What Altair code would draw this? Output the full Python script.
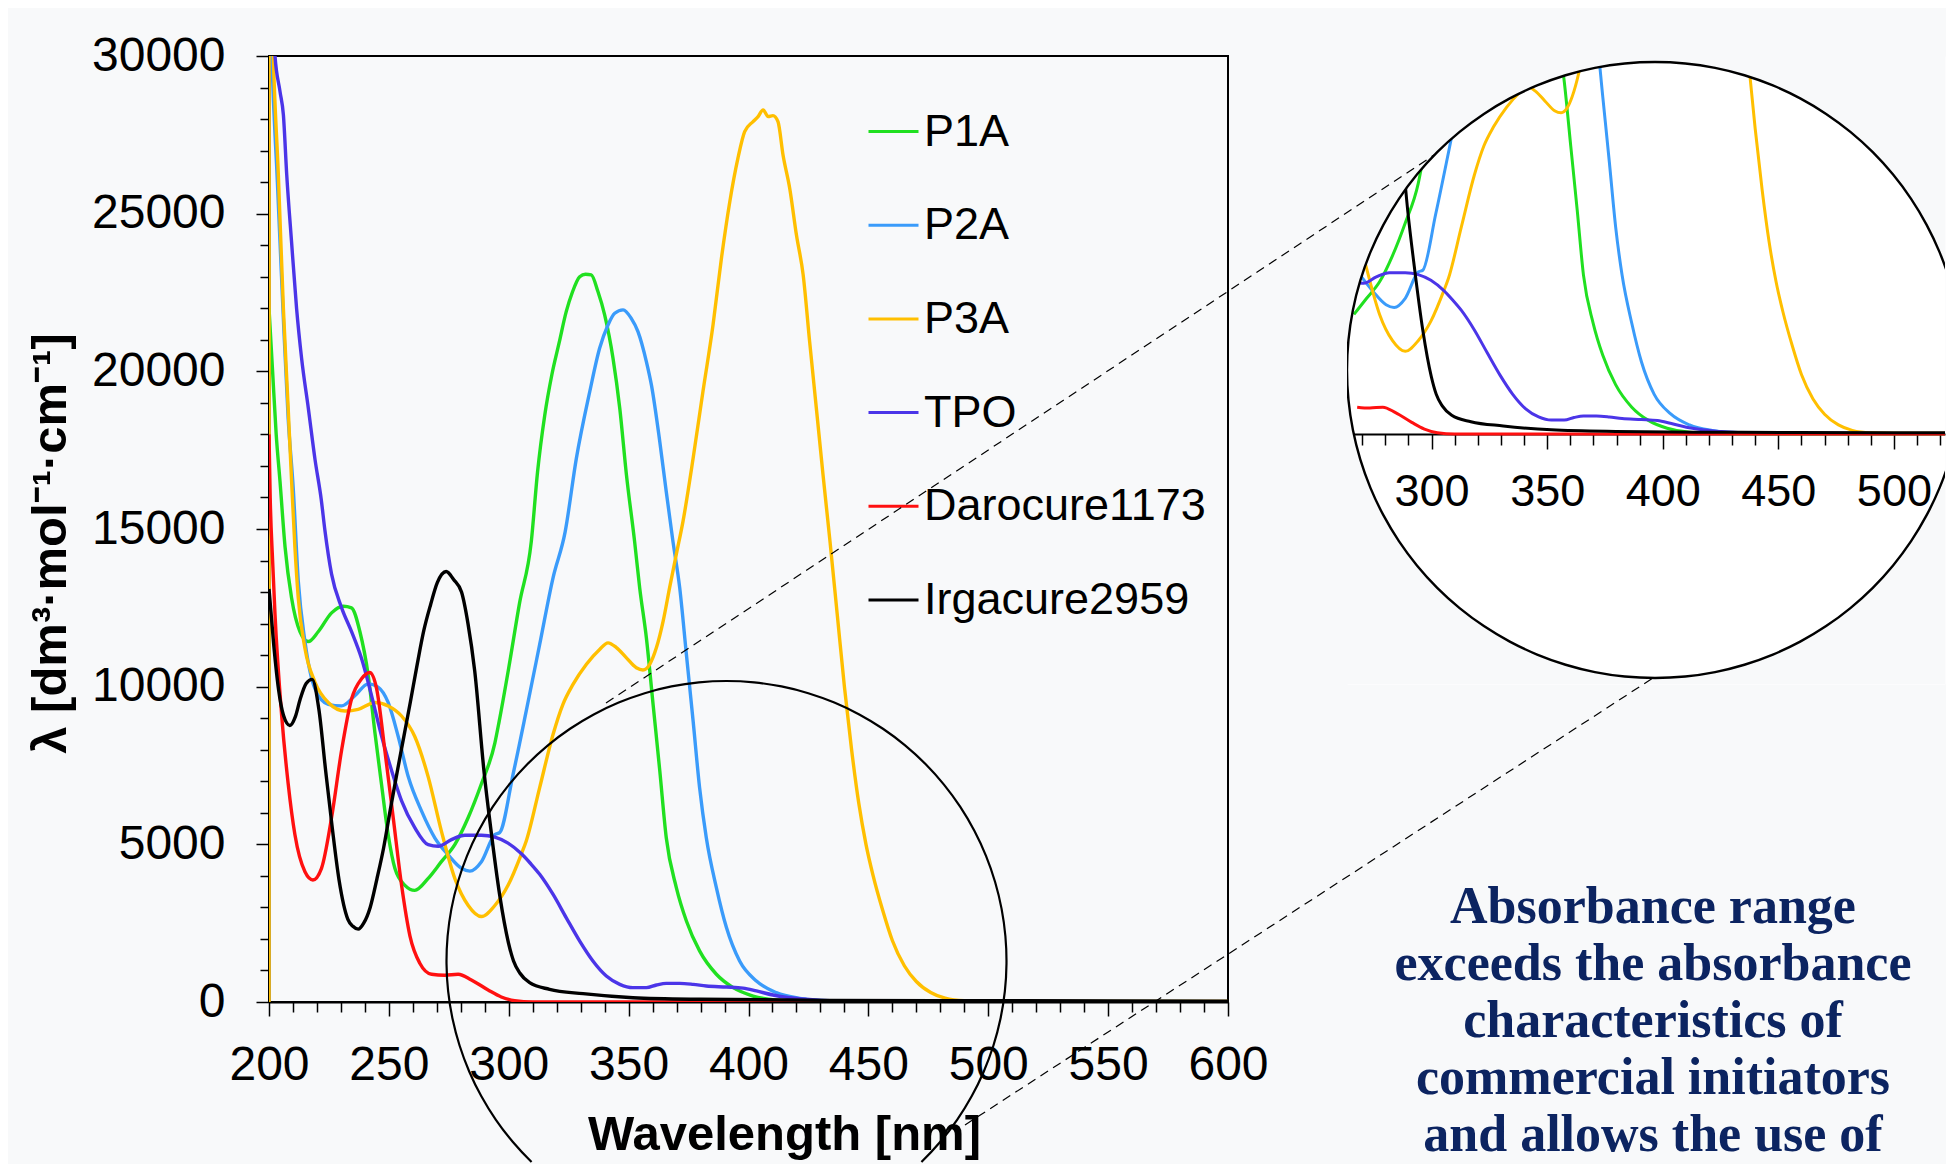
import math
import altair as alt
import pandas as pd

SERIES = ["P1A", "P2A", "P3A", "TPO", "Darocure1173", "Irgacure2959"]
COLORS = ["#20e020", "#3a9bfa", "#ffbf00", "#4b35e8", "#ff1010", "#000000"]

P1A_NM = [200, 201.5, 203, 204.6, 206.7, 209.4, 212.9, 216.4, 220.6, 226.1, 231, 234.4, 237.9, 241.4,
          244.2, 246.9, 249.7, 252.5, 256.7, 260.8, 266.4, 271.9, 277.5, 283.1, 288.6, 294.2, 296, 300,
          304.5, 309.4, 312, 315, 318, 321, 324, 326.5, 329.6, 332, 334.4, 337.2, 340, 343.5, 346.3,
          349.1, 352.5, 354.6, 357.4, 360.2, 363, 365.7, 369.9, 374.1, 379.6, 386.6, 393.6, 401.9,
          411.6, 421.4, 440, 500, 600]
P1A_VAL = [22000, 20000, 18000, 16500, 14430, 12820, 11750, 11430, 11750, 12340, 12550, 12500, 11750,
           10350, 8530, 6920, 5310, 4240, 3700, 3540, 3920, 4450, 4990, 5850, 6920, 8210, 8900, 10600,
           12650, 14600, 16800, 18600, 19900, 20900, 21900, 22500, 23000, 23080, 23060, 22530, 21790,
           20410, 18830, 16710, 14600, 13140, 11550, 9440, 7330, 5210, 3630, 2570, 1620, 880, 455, 190,
           60, 20, 10, 10, 10]

P2A_NM = [200, 201, 203.5, 205.8, 208, 210.1, 212.2, 215, 219.2, 224.7, 230.3, 235.8, 241.4, 245.6,
          249.7, 253.9, 258.1, 263.6, 269.2, 274.7, 280.3, 283.8, 288.6, 294.2, 296.2, 301.8, 307.3,
          312.9, 318.5, 323.5, 328.2, 333.8, 337.9, 341.4, 344.2, 347.7, 351.1, 353.9, 357.4, 359.5,
          363, 365.7, 368.5, 371.3, 374.1, 376.9, 379.6, 382.4, 386.6, 390.8, 396.3, 403.3, 411.6,
          421.4, 429.7, 450, 600]
P2A_VAL = [34000, 30500, 26000, 22000, 18500, 16300, 13360, 11430, 9930, 9440, 9390, 9710, 10090, 9980,
           9500, 8420, 7140, 6060, 5200, 4670, 4240, 4150, 4450, 5310, 5370, 7220, 9230, 11340, 13460,
           14900, 17240, 19360, 20730, 21470, 21840, 21950, 21680, 21260, 20310, 19570, 17770, 16180,
           14600, 13140, 11020, 8910, 6800, 5210, 3630, 2360, 1300, 666, 296, 116, 53, 20, 10]

P3A_NM = [200, 200.05, 201.8, 203.9, 206, 208, 209.5, 210.8, 212.2, 215, 219.2, 224.7, 231.7, 237.2,
          244.2, 249.7, 255.3, 260.8, 266.4, 271.9, 277.5, 283.1, 288.6, 294.2, 299.7, 305.3, 307.3,
          312.9, 318.5, 322.6, 326.8, 332.4, 337.9, 341.4, 344.9, 349, 353.2, 356, 358.8, 361.6, 364.4,
          367.1, 369.9, 372.7, 376.9, 381, 385.2, 388.7, 392.2, 395.6, 398.4, 401.9, 404, 406.1, 408.2,
          410.2, 412.3, 414.4, 417.2, 420, 422.8, 425.5, 428.3, 431.1, 434, 437, 440, 443, 446, 449,
          452, 456, 460, 465, 470, 476, 482, 490, 500, 600]
P3A_VAL = [0, 36000, 30000, 26230, 22000, 18830, 16400, 14430, 12820, 11210, 10140, 9500, 9230, 9280,
           9500, 9390, 9070, 8420, 7140, 5420, 3920, 3060, 2710, 3060, 3700, 4700, 5105, 6800, 8490,
           9440, 10070, 10710, 11180, 11390, 11240, 10920, 10600, 10530, 10710, 11240, 12080, 13140,
           14200, 15250, 17240, 19360, 21470, 23580, 25380, 26760, 27600, 27920, 28080, 28290, 28080,
           28110, 27920, 26860, 25800, 24320, 23060, 20940, 18830, 16710, 14600, 12300, 10000, 8000,
           6300, 5000, 4000, 2900, 1950, 1150, 650, 300, 120, 40, 25, 15]

TPO_NM = [200, 202.5, 204.6, 206, 207.4, 209.4, 211.5, 213.6, 216.4, 219.2, 221.8, 223.3, 226.1, 230.3,
          234.4, 238.6, 242.8, 247, 251.1, 255.3, 260.8, 266.4, 270.6, 276.1, 281.7, 288.6, 294.2,
          299.7, 305.3, 309, 312.9, 318.5, 324, 329.6, 335.1, 340.7, 346.3, 351.8, 357.4, 361.6, 365.7,
          371.3, 376.9, 382.4, 390.8, 397.7, 403.3, 410.2, 417.2, 424.2, 433.9, 500, 600]
TPO_VAL = [34000, 30000, 28870, 28130, 26226, 24110, 22000, 20410, 18830, 17200, 15930, 14970, 13570,
           12500, 11750, 10890, 9710, 8420, 7350, 6380, 5530, 4990, 4940, 5150, 5290, 5290, 5225, 5040,
           4700, 4400, 4050, 3410, 2670, 1930, 1300, 824, 560, 455, 455, 540, 592, 592, 560, 507, 475,
           440, 350, 222, 137, 85, 40, 20, 10]

DARO_NM = [200, 200.5, 201.5, 202.5, 205.3, 208, 210.8, 215, 218.3, 221.9, 226.1, 230.3, 234.4, 238.6,
           242, 244.9, 248.3, 251.8, 255.3, 258.8, 262.9, 267.8, 273.3, 278.9, 284.4, 291.4, 296.9,
           302.5, 310, 600]
DARO_VAL = [18000, 16000, 14000, 12300, 9070, 6920, 5310, 4130, 3870, 4240, 5850, 7990, 9600, 10250,
            10450, 9930, 7990, 5850, 3700, 2090, 1230, 880, 850, 880, 700, 380, 160, 40, 0, 0]

IRGA_NM = [200, 202, 204, 206, 208.7, 211, 213, 215.5, 218, 220.8, 223.6, 226.4, 229.2, 232.9, 235,
           237.2, 239.5, 242.2, 245, 247.8, 250.6, 253.4, 256.2, 259, 261.8, 264.6, 267.4, 270.2, 273.9,
           277, 280.3, 283, 285.8, 289.7, 292.5, 296.2, 299.9, 302, 304.6, 308.7, 317, 331, 351.8,
           379.6, 433.9, 500, 600]
IRGA_VAL = [13100, 11300, 9900, 9100, 8770, 9050, 9600, 10100, 10230, 9280, 7355, 5513, 3878, 2622,
            2400, 2310, 2500, 3000, 3900, 4884, 6100, 7269, 8400, 9530, 10700, 11791, 12600, 13297,
            13650, 13400, 13000, 12000, 10500, 7300, 5500, 3400, 1870, 1300, 920, 613, 402, 264, 137,
            85, 53, 40, 25]

NOTE_LINES = ["Absorbance range", "exceeds the absorbance", "characteristics of",
              "commercial initiators", "and allows the use of"]

X_TICKS = list(range(200, 601, 10))
Y_TICKS = list(range(0, 30001, 1000))
INSET_TICKS = list(range(270, 521, 10))

rows = []
for name, nms, vals in [("P1A", P1A_NM, P1A_VAL), ("P2A", P2A_NM, P2A_VAL), ("P3A", P3A_NM, P3A_VAL),
                        ("TPO", TPO_NM, TPO_VAL), ("Darocure1173", DARO_NM, DARO_VAL),
                        ("Irgacure2959", IRGA_NM, IRGA_VAL)]:
    for a, b in zip(nms, vals):
        rows.append({"series": name, "nm": a, "val": b})
df = pd.DataFrame(rows)
one = pd.DataFrame({"k": [0]})

FONT = "Liberation Sans"
BG = "#f8f9fa"
NAVY = "#0c2461"

# ---------------- main chart ----------------
W, H = 959, 946
x_main = alt.X(
    "nm:Q",
    scale=alt.Scale(domain=[200, 600], nice=False, zero=False),
    axis=alt.Axis(
        values=X_TICKS, format="d",
        labelExpr="datum.value % 50 === 0 ? datum.label : ''",
        tickSize={"condition": {"test": "datum.value % 50 === 0", "value": 14}, "value": 10},
        tickColor="black", tickWidth=1.5, domainColor="black", domainWidth=2, grid=False,
        labelFont=FONT, labelFontSize=48, labelColor="black", labelPadding=25,
        labelFlush=False, labelOverlap=False,
        title="Wavelength [nm]", titleFont=FONT, titleFontSize=49, titleFontWeight="bold",
        titleColor="black", titleX=515, titleY=147, titleBaseline="alphabetic", titleAlign="center",
    ),
)
y_main = alt.Y(
    "val:Q",
    scale=alt.Scale(domain=[0, 30000], nice=False, zero=False),
    axis=alt.Axis(
        values=Y_TICKS, format="d",
        labelExpr="datum.value % 5000 === 0 ? datum.label : ''",
        tickSize={"condition": {"test": "datum.value % 5000 === 0", "value": 13}, "value": 9},
        tickColor="black", tickWidth=1.5, domainColor="black", domainWidth=2, grid=False,
        labelFont=FONT, labelFontSize=48, labelColor="black", labelPadding=31, labelOverlap=False,
        title="λ [dm³·mol⁻¹·cm⁻¹]", titleFont=FONT, titleFontSize=49, titleFontWeight="bold",
        titleColor="black", titleX=-219, titleY=487, titleAngle=270, titleAlign="center",
        titleBaseline="middle",
    ),
)
color_main = alt.Color(
    "series:N",
    scale=alt.Scale(domain=SERIES, range=COLORS),
    legend=alt.Legend(
        title=None, orient="none", legendX=598, legendY=49, padding=0,
        symbolType="stroke", symbolSize=2500, symbolStrokeWidth=3,
        labelFont=FONT, labelFontSize=45, labelColor="black", labelOffset=4, labelLimit=500,
        rowPadding=43.7,
    ),
)
lines = alt.Chart(df).mark_line(clip=True, strokeWidth=3.4, interpolate="monotone").encode(
    x=x_main, y=y_main, color=color_main
)

# magnifier circle on the main plot (cut at the page bottom)
CX, CY, R = 457.5, 905, 280
cut = math.asin(math.sqrt(max(R ** 2 - (1106 - CY) ** 2, 0)) / R)
ring_main = alt.Chart(one).mark_arc(
    radius=R + 1.1, radius2=R - 1.1, theta=math.pi + cut, theta2=3 * math.pi - cut, color="black"
).encode(x=alt.value(CX), y=alt.value(CY))

main = alt.layer(lines, ring_main).properties(
    width=W, height=H, view=alt.ViewBackground(stroke="black", strokeWidth=2)
)

# ---------------- inset (magnified view) ----------------
IW, IH = 598, 628
ICX, ICY, IR = 308, 314, 308
x_in = alt.X(
    "nm:Q",
    scale=alt.Scale(domain=[263.4, 522.1], nice=False, zero=False),
    axis=alt.Axis(
        values=INSET_TICKS, format="d", offset=-250,
        labelExpr="datum.value % 50 === 0 ? datum.label : ''",
        tickSize={"condition": {"test": "datum.value % 50 === 0", "value": 15}, "value": 11},
        tickColor="black", tickWidth=1.5, domainColor="black", domainWidth=2, grid=False,
        labelFont=FONT, labelFontSize=45, labelColor="black", labelPadding=20,
        labelFlush=False, labelOverlap=False, title=None,
    ),
)
y_in = alt.Y("val:Q", scale=alt.Scale(domain=[-8197, 12393], nice=False, zero=False), axis=None)
inset_lines = (
    alt.Chart(df)
    .transform_filter(alt.datum.nm >= 265.5)
    .mark_line(clip=True, strokeWidth=3, interpolate="monotone")
    .encode(
        x=x_in, y=y_in,
        color=alt.Color("series:N", scale=alt.Scale(domain=SERIES, range=COLORS), legend=None),
    )
)
mask = alt.Chart(one).mark_arc(
    radius=480, radius2=IR, theta=0, theta2=2 * math.pi, color=BG, clip=True
).encode(x=alt.value(ICX), y=alt.value(ICY))
ring_in = alt.Chart(one).mark_arc(
    radius=IR + 1.2, radius2=IR - 1.2, theta=0, theta2=2 * math.pi, color="black", clip=True
).encode(x=alt.value(ICX), y=alt.value(ICY))

# dashed connector lines (drawn in the inset group so they stay on top)
dash_up = alt.Chart(one).mark_rule(color="black", strokeWidth=1.2, strokeDash=[9, 6]).encode(
    x=alt.value(-741), y=alt.value(647), x2=alt.value(87), y2=alt.value(99)
)
dash_lo = alt.Chart(one).mark_rule(color="black", strokeWidth=1.2, strokeDash=[9, 6]).encode(
    x=alt.value(-382), y=alt.value(1069), x2=alt.value(306), y2=alt.value(622)
)
note = alt.Chart(one).mark_text(
    text=NOTE_LINES, lineHeight=57, fontSize=52, font="Liberation Serif", fontWeight="bold",
    color=NAVY, align="center", baseline="alphabetic",
).encode(x=alt.value(306), y=alt.value(867))

inset = alt.layer(inset_lines, mask, ring_in, dash_up, dash_lo, note).properties(
    width=IW, height=IH, view=alt.ViewBackground(fill="white", stroke="transparent")
)

chart = (
    alt.hconcat(main, inset, spacing=119, bounds="flush")
    .resolve_scale(x="independent", y="independent", color="independent")
    .properties(padding={"left": 17, "top": 23, "right": 0, "bottom": 0})
    .configure(background=BG)
)

chart.save("out.html", embed_options={"renderer": "svg", "actions": False})
